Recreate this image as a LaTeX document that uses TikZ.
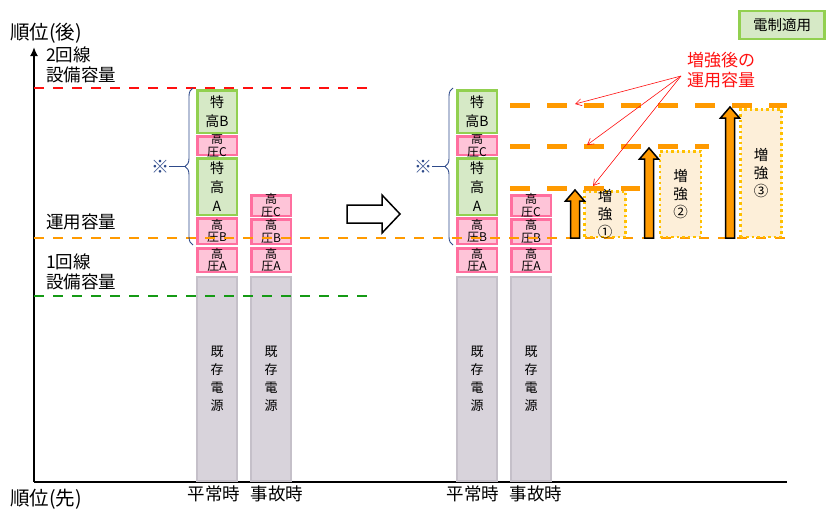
\documentclass[tikz,border=0pt]{standalone}
\usepackage{fontspec}
\setmainfont{Noto Sans CJK JP}
\usepackage{tikz}
\usetikzlibrary{arrows.meta,decorations.pathreplacing}

\definecolor{tkline}{HTML}{92D050}
\definecolor{tkfill}{HTML}{D6E9C6}
\definecolor{hvline}{HTML}{FF6F9F}
\definecolor{hvfill}{HTML}{FEC4D8}
\definecolor{exline}{HTML}{C5C0C9}
\definecolor{exfill}{HTML}{D8D3DB}
\definecolor{capor}{HTML}{FF9A00}
\definecolor{capred}{HTML}{FF1010}
\definecolor{capgrn}{HTML}{159A15}
\definecolor{bracecol}{HTML}{2E4A8A}
\definecolor{zkline}{HTML}{FFC000}
\definecolor{zkfill}{HTML}{FDEFD9}

\newcommand{\fsAxis}{\fontsize{19.5}{22}\selectfont}
\newcommand{\fsLine}{\fontsize{17.5}{20}\selectfont}
\newcommand{\fsBox}{\fontsize{12}{12.5}\selectfont}
\newcommand{\fsSrc}{\fontsize{13}{18}\selectfont}

\begin{document}
\begin{tikzpicture}[x=1pt,y=-1pt,
  tokko/.style={draw=tkline,fill=tkfill,line width=2.5pt,minimum width=39.5pt,inner sep=0pt},
  koatsu/.style={draw=hvline,fill=hvfill,line width=2.5pt,minimum width=39.5pt,inner sep=0pt},
  kizon/.style={draw=exline,fill=exfill,line width=2pt,minimum width=40pt,minimum height=204pt,inner sep=0pt,
    label={[boxtxt,font=\fsSrc]center:{既\\存\\電\\源}}},
  boxtxt/.style={align=center,inner sep=0pt,font=\fsBox},
  zoukyo/.style={draw=zkline,fill=zkfill,line width=2.5pt,dash pattern=on 2.5pt off 3pt,minimum width=41pt,inner sep=0pt},
  zktxt/.style={align=center,inner sep=0pt,font=\fontsize{14.5}{18}\selectfont},
  capline/.style={line width=2.2pt,dash pattern=on 10pt off 9pt},
  newcap/.style={draw=capor,line width=5pt,dash pattern=on 20pt off 17pt},
  uparr/.style={draw=black,fill=capor,line width=1.5pt,line join=miter},
  brc/.style={draw=bracecol,line width=0.9pt,decorate,decoration={brace,amplitude=8pt}},
  lbl/.style={anchor=west,inner sep=0pt,align=left,font=\fsLine},
  note/.style={text=bracecol,font=\fontsize{18}{18}\selectfont,inner sep=0pt},
  redarr/.style={draw=capred,line width=0.6pt,-{Straight Barb[length=6pt,width=7pt]}}]
\useasboundingbox (0,0) rectangle (829,512);

% axes
\coordinate (O) at (34,482);
\coordinate (ytop) at (34,47);
\coordinate (xend) at (787,482);
\draw[line width=2pt,-{Latex[length=9pt,width=8pt]}] (O) -- (ytop);
\draw[line width=2pt] (O) -- (xend);
\node[lbl,font=\fsAxis] (rankup) at (10,33) {順位(後)};
\node[lbl,font=\fsAxis] (rankdn) at (10,499) {順位(先)};

% capacity labels
\node[lbl] (cap2) at (46,65) {2回線\\設備容量};
\node[lbl] (capop) at (46,222) {運用容量};
\node[lbl] (cap1) at (46,272) {1回線\\設備容量};

% before: normal
\node[kizon] (exN) at (217,379) {};
\node[koatsu,minimum height=23.5pt,label={[boxtxt]center:{高\\圧A}}] (hvAN) at (217,260) {};
\node[koatsu,minimum height=25.5pt,label={[boxtxt]center:{高\\圧B}}] (hvBN) at (217,231) {};
\node[tokko,minimum height=56.5pt,label={[boxtxt,font=\fontsize{14}{19}\selectfont]center:{特\\高\\A}}] (tkAN) at (217,186.5) {};
\node[koatsu,minimum height=18.5pt,label={[boxtxt]center:{高\\圧C}}] (hvCN) at (217,145.5) {};
\node[tokko,minimum height=42.5pt,label={[boxtxt,font=\fontsize{14}{19}\selectfont]center:{特\\高B}}] (tkBN) at (217,111.5) {};
% before: fault
\node[kizon] (exF) at (271,379) {};
\node[koatsu,minimum height=23.5pt,label={[boxtxt]center:{高\\圧A}}] (hvAF) at (271,260) {};
\node[koatsu,minimum height=24.5pt,label={[boxtxt]center:{高\\圧B}}] (hvBF) at (271,231.5) {};
\node[koatsu,minimum height=20.5pt,label={[boxtxt]center:{高\\圧C}}] (hvCF) at (271,205.5) {};

% after: normal
\node[kizon] (exN2) at (477,379) {};
\node[koatsu,minimum height=23.5pt,label={[boxtxt]center:{高\\圧A}}] (hvAN2) at (477,260) {};
\node[koatsu,minimum height=25.5pt,label={[boxtxt]center:{高\\圧B}}] (hvBN2) at (477,231) {};
\node[tokko,minimum height=56.5pt,label={[boxtxt,font=\fontsize{14}{19}\selectfont]center:{特\\高\\A}}] (tkAN2) at (477,186.5) {};
\node[koatsu,minimum height=18.5pt,label={[boxtxt]center:{高\\圧C}}] (hvCN2) at (477,145.5) {};
\node[tokko,minimum height=42.5pt,label={[boxtxt,font=\fontsize{14}{19}\selectfont]center:{特\\高B}}] (tkBN2) at (477,111.5) {};
% after: fault
\node[kizon] (exF2) at (531,379) {};
\node[koatsu,minimum height=23.5pt,label={[boxtxt]center:{高\\圧A}}] (hvAF2) at (531,260) {};
\node[koatsu,minimum height=24.5pt,label={[boxtxt]center:{高\\圧B}}] (hvBF2) at (531,231.5) {};
\node[koatsu,minimum height=20.5pt,label={[boxtxt]center:{高\\圧C}}] (hvCF2) at (531,205.5) {};

% bottom labels
\node[font=\fsLine,inner sep=0pt] (nrm) at (214,494) {平常時};
\node[font=\fsLine,inner sep=0pt] (flt) at (277,494) {事故時};
\node[font=\fsLine,inner sep=0pt] (nrm2) at (473,494) {平常時};
\node[font=\fsLine,inner sep=0pt] (flt2) at (536,494) {事故時};

% capacity lines
\coordinate (r0) at (34,88);  \coordinate (r1) at (375,88);
\coordinate (o0) at (34,238); \coordinate (o1) at (787,238);
\coordinate (g0) at (34,296); \coordinate (g1) at (375,296);
\draw[capline,capred] (r0) -- (r1);
\draw[capline,capor] (o0) -- (o1);
\draw[capline,capgrn] (g0) -- (g1);

% braces
\draw[brc] (193,245) -- (193,88);
\coordinate (tipL) at (185,166.5);
\node[note] (noteL) at (160,166.5) {※};
\draw[bracecol,line width=0.9pt] (noteL) -- (tipL);
\draw[brc] (453,245) -- (453,88);
\coordinate (tipR) at (445,166.5);
\node[note] (noteR) at (423,166.5) {※};
\draw[bracecol,line width=0.9pt] (noteR) -- (tipR);

% transition arrow
\draw[line width=1.5pt,fill=white] (347,205) -- (382,205) -- (382,195) -- (400,214) -- (382,233) -- (382,223) -- (347,223) -- cycle;

% reinforcement boxes
\node[zoukyo,minimum height=45.5pt,label={[zktxt]center:{増\\強\\①}}] (zk1) at (605,214) {};
\node[zoukyo,minimum height=85.5pt,label={[zktxt]center:{増\\強\\②}}] (zk2) at (680.5,194) {};
\node[zoukyo,minimum height=127.5pt,label={[zktxt]center:{増\\強\\③}}] (zk3) at (761,173) {};

% new capacity lines
\coordinate (n1a) at (510,105); \coordinate (n1b) at (787,105);
\coordinate (n2a) at (510,146); \coordinate (n2b) at (709,146);
\coordinate (n3a) at (510,188); \coordinate (n3b) at (640,188);
\draw[newcap] (n1a) -- (n1b);
\draw[newcap] (n2a) -- (n2b);
\draw[newcap] (n3a) -- (n3b);

% up arrows
\foreach \ax/\at in {575/190,649/148,730/107}
  \draw[uparr] ({\ax-4.5},238) -- ({\ax-4.5},{\at+11}) -- ({\ax-9.5},{\at+11}) -- (\ax,\at)
    -- ({\ax+9.5},{\at+11}) -- ({\ax+4.5},{\at+11}) -- ({\ax+4.5},238) -- cycle;

% note on new capacity
\node[text=capred,font=\fontsize{17}{20}\selectfont,align=left,inner sep=0pt] (newlbl) at (721,70) {増強後の\\運用容量};
\coordinate (src) at (681,76);
\coordinate (t1) at (575,104);
\coordinate (t2) at (587,145);
\coordinate (t3) at (593,186);
\draw[redarr] (src) -- (t1);
\draw[redarr] (src) -- (t2);
\draw[redarr] (src) -- (t3);

% legend
\node[tokko,minimum width=85pt,minimum height=28pt,font=\fontsize{14.5}{16}\selectfont] (leg) at (782,25) {電制適用};
\end{tikzpicture}
\end{document}
